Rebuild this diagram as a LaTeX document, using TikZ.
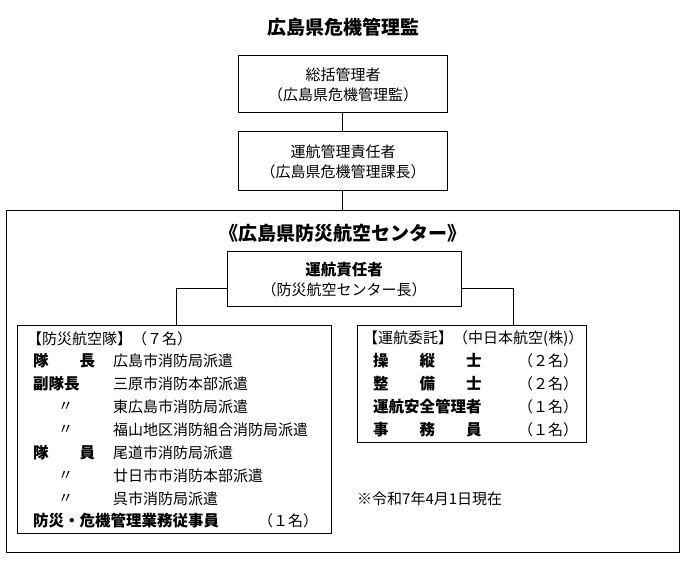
\documentclass[tikz,border=0pt]{standalone}
\usepackage{fontspec}
\setmainfont{Noto Sans CJK JP}
\begin{document}
\begin{tikzpicture}[x=1pt,y=-1pt,
 bx/.style={draw,line width=0.8pt},
 t/.style={font=\fontsize{15}{16}\selectfont,inner sep=0pt,anchor=west},
 b/.style={t,font=\fontsize{15.5}{16}\selectfont\bfseries},
 c/.style={font=\fontsize{15}{16}\selectfont,inner sep=0pt}]
\useasboundingbox (0,0) rectangle (687,562);
\node[c,font=\fontsize{19}{20}\selectfont\bfseries] (title) at (343,27) {広島県危機管理監};
\node[bx,minimum width=209,minimum height=57] (b1) at (342.5,83.5) {};
\node[c] at (343,75) {総括管理者};
\node[c] at (343,95) {（広島県危機管理監）};
\node[bx,minimum width=209,minimum height=59] (b2) at (342.5,160.5) {};
\node[c] at (343,152) {運航管理責任者};
\node[c] at (343,172) {（広島県危機管理課長）};
\node[bx,minimum width=673,minimum height=342] (outer) at (342.5,381) {};
\draw[line width=0.8pt] (b1.south) -- (b2.north);
\draw[line width=0.8pt] (b2.south) -- (outer.north);
\node[c,font=\fontsize{19}{20}\selectfont\bfseries] (head) at (343,233) {《広島県防災航空センター》};
\node[bx,minimum width=234,minimum height=55] (b3) at (344,278.5) {};
\node[c,font=\fontsize{15.5}{16}\selectfont\bfseries] at (344,270) {運航責任者};
\node[c] at (344,290) {（防災航空センター長）};
\node[bx,minimum width=314,minimum height=208] (L) at (174,429) {};
\node[bx,minimum width=229,minimum height=117] (R) at (471.5,383.5) {};
\draw[line width=0.8pt] (b3.west |- 0,288) -| (176,325);
\draw[line width=0.8pt] (b3.east |- 0,288) -| (513,325);
% left box
\node[t] at (27,339) {【防災航空隊】（７名）};
\node[b] at (33,361) {隊　　長};\node[t] at (113,361) {広島市消防局派遣};
\node[b] at (33,384) {副隊長};\node[t] at (113,384) {三原市消防本部派遣};
\node[t] at (58,407) {〃};\node[t] at (113,407) {東広島市消防局派遣};
\node[t] at (58,430) {〃};\node[t] at (113,430) {福山地区消防組合消防局派遣};
\node[b] at (33,453) {隊　　員};\node[t] at (113,453) {尾道市消防局派遣};
\node[t] at (58,476) {〃};\node[t] at (113,476) {廿日市市消防本部派遣};
\node[t] at (58,499) {〃};\node[t] at (113,499) {呉市消防局派遣};
\node[b] at (33,521) {防災・危機管理業務従事員};\node[t] at (258,521) {（１名）};
% right box
\node[t] at (363,339) {【運航委託】（中日本航空(株)）};
\node[b] at (373,361) {操　　縦　　士};\node[t] at (518,361) {（２名）};
\node[b] at (373,384) {整　　備　　士};\node[t] at (518,384) {（２名）};
\node[b] at (373,407) {運航安全管理者};\node[t] at (518,407) {（１名）};
\node[b] at (373,430) {事　　務　　員};\node[t] at (518,430) {（１名）};
\node[t] at (357,499) {※令和7年4月1日現在};
\end{tikzpicture}
\end{document}
